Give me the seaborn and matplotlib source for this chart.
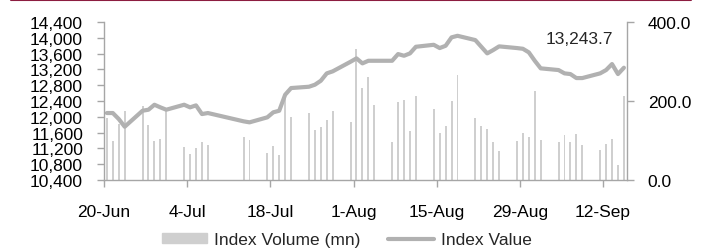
import matplotlib.pyplot as plt
import matplotlib.dates as mdates
import matplotlib.ticker as mticker
from matplotlib.lines import Line2D
from matplotlib.patches import Patch
import numpy as np
import pandas as pd
import seaborn as sns

# trading days (Sun-Thu week), Jun-Sep 2022
trade_dates = [
    "2022-06-20", "2022-06-21", "2022-06-22", "2022-06-23", "2022-06-26",
    "2022-06-27", "2022-06-28", "2022-06-29", "2022-06-30",
    "2022-07-03", "2022-07-04", "2022-07-05", "2022-07-06", "2022-07-07",
    "2022-07-13", "2022-07-14", "2022-07-17", "2022-07-18", "2022-07-19",
    "2022-07-20", "2022-07-21", "2022-07-24", "2022-07-25", "2022-07-26",
    "2022-07-27", "2022-07-28", "2022-07-31",
    "2022-08-01", "2022-08-02", "2022-08-03", "2022-08-04", "2022-08-07",
    "2022-08-08", "2022-08-09", "2022-08-10", "2022-08-11", "2022-08-14",
    "2022-08-15", "2022-08-16", "2022-08-17", "2022-08-18", "2022-08-21",
    "2022-08-22", "2022-08-23", "2022-08-24", "2022-08-25", "2022-08-28",
    "2022-08-29", "2022-08-30", "2022-08-31",
    "2022-09-01", "2022-09-04", "2022-09-05", "2022-09-06", "2022-09-07",
    "2022-09-08", "2022-09-11", "2022-09-12", "2022-09-13", "2022-09-14",
    "2022-09-15",
]

index_value = [
    12096, 12096, 11944, 11749, 12154, 12180, 12306, 12240, 12180,
    12306, 12240, 12290, 12070, 12096, 11886, 11860, 11987, 12114, 12154,
    12560, 12729, 12762, 12813, 12914, 13101, 13152, 13395,
    13481, 13354, 13420, 13420, 13420, 13590, 13547, 13607, 13775, 13825,
    13742, 13800, 14013, 14053, 13944, 13775, 13607, 13691, 13785, 13742,
    13724, 13633, 13420,
    13228, 13185, 13101, 13083, 12982, 12982, 13101, 13185, 13337, 13083,
    13243.7,
]

index_volume = [
    157, 100, 142, 174, 187, 140, 99, 103, 175,
    83, 66, 81, 95, 89, 108, 101, 68, 86, 63, 215, 159, 169, 127, 133, 152,
    174, 147,
    332, 232, 261, 190, 97, 198, 202, 125, 214, 180, 119, 137, 199, 266,
    156, 137, 129, 97, 74, 99, 119, 108, 226,
    101, 97, 114, 95, 116, 89, 76, 91, 104, 39, 212,
]

BAR_COLOR = "#cfcfcf"
LINE_COLOR = "#b1b1b1"
AXIS_COLOR = "#a6a6a6"
FONT_SIZE = 12.5

sns.set_theme(style="ticks", rc={
    "axes.spines.top": False,
    "axes.edgecolor": AXIS_COLOR,
    "axes.linewidth": 1.0,
    "xtick.color": AXIS_COLOR,
    "ytick.color": AXIS_COLOR,
    "xtick.labelcolor": "black",
    "ytick.labelcolor": "black",
    "font.size": FONT_SIZE,
})
plt.rcParams["font.family"] = ["Liberation Sans", "DejaVu Sans"]

df = pd.DataFrame({
    "date": pd.to_datetime(trade_dates),
    "value": index_value,
    "volume": index_volume,
})
# Excel centres each day's mark in the middle of its day slot
df["pos"] = df["date"] + pd.Timedelta(hours=12)

fig = plt.figure(figsize=(7.02, 2.51), dpi=100)
ax_vol = fig.add_axes([0.148, 0.279, 0.745, 0.629])
ax_idx = ax_vol.twinx()

# volume bars, right axis
ax_vol.bar(df["pos"], df["volume"], width=0.33, color=BAR_COLOR,
           linewidth=0)
ax_vol.set_ylim(0, 400)
ax_vol.yaxis.set_major_locator(mticker.MultipleLocator(200))
ax_vol.yaxis.set_major_formatter(mticker.FormatStrFormatter("%.1f"))
ax_vol.yaxis.tick_right()
ax_vol.spines["left"].set_visible(False)
ax_vol.spines["right"].set_visible(True)

# index line, left axis
sns.lineplot(data=df, x="pos", y="value", color=LINE_COLOR, lw=3.0,
             ax=ax_idx, legend=False)
ax_idx.set_ylim(10400, 14400)
ax_idx.yaxis.set_major_locator(mticker.MultipleLocator(400))
ax_idx.yaxis.set_major_formatter(mticker.StrMethodFormatter("{x:,.0f}"))
ax_idx.yaxis.tick_left()
ax_idx.spines["left"].set_visible(True)
ax_idx.spines["right"].set_visible(False)
ax_idx.spines["bottom"].set_visible(False)
ax_idx.spines["top"].set_visible(False)

for a in (ax_vol, ax_idx):
    a.set_xlabel("")
    a.set_ylabel("")

start = pd.Timestamp("2022-06-20")
ax_vol.set_xlim(start, pd.Timestamp("2022-09-16"))
ax_vol.set_xticks(pd.date_range(start, periods=7, freq="14D"))
ax_vol.xaxis.set_major_formatter(mdates.DateFormatter("%-d-%b"))

ax_vol.tick_params(axis="x", length=5, width=1, pad=12, labelsize=FONT_SIZE)
ax_vol.tick_params(axis="y", length=5, width=1, pad=10, labelsize=FONT_SIZE)
ax_idx.tick_params(axis="y", length=5, width=1, pad=10, labelsize=FONT_SIZE)

last = df.iloc[-1]
ax_idx.annotate(f"{last['value']:,.1f}", xy=(last["pos"], last["value"]),
                xytext=(-11, 29), textcoords="offset pixels",
                ha="right", va="center", fontsize=FONT_SIZE)

handles = [Patch(color=BAR_COLOR), Line2D([], [], color=LINE_COLOR, lw=3.0)]
fig.legend(handles, ["Index Volume (mn)", "Index Value"], loc="center",
           bbox_to_anchor=(0.494, 0.04), ncol=2, frameon=False,
           handlelength=2.6, handleheight=0.5, handletextpad=0.4,
           columnspacing=1.6, fontsize=FONT_SIZE)

# thin maroon rule along the top
fig.add_artist(Line2D([11 / 702, 691 / 702], [0.997, 0.997],
                      color="#8c1d40", lw=1.5, transform=fig.transFigure))

fig.savefig("out.png", dpi=100)
